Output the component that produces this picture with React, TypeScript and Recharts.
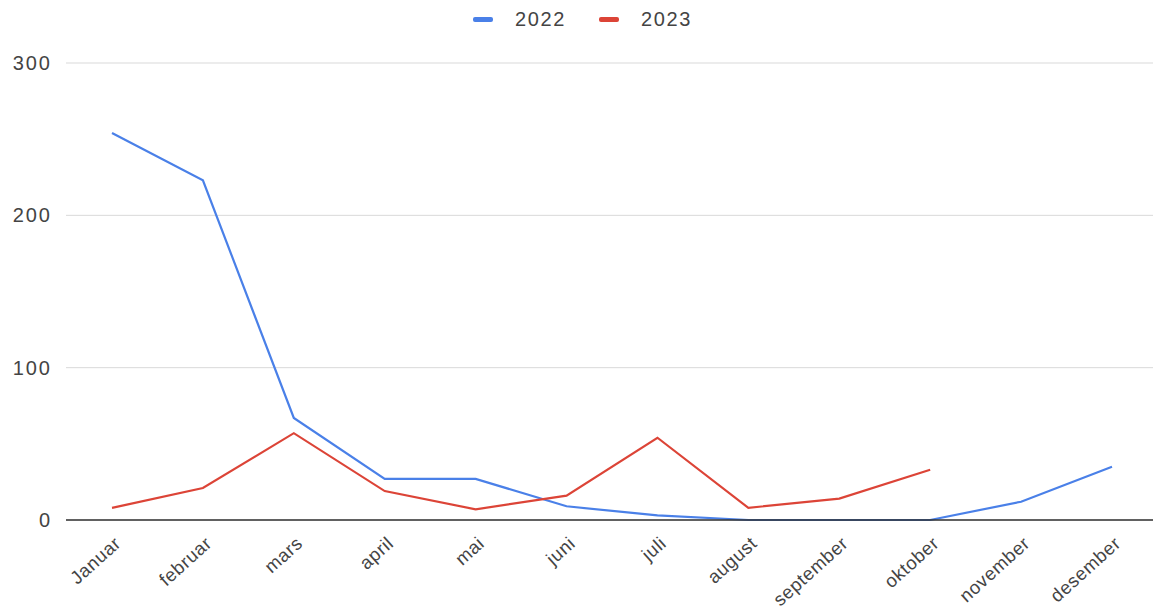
import { LineChart, Line, XAxis, YAxis, CartesianGrid, Legend } from "recharts";

const months = [
  "Januar",
  "februar",
  "mars",
  "april",
  "mai",
  "juni",
  "juli",
  "august",
  "september",
  "oktober",
  "november",
  "desember",
];
const values2022 = [254, 223, 67, 27, 27, 9, 3, 0, 0, 0, 12, 35];
const values2023: Array<number | null> = [8, 21, 57, 19, 7, 16, 54, 8, 14, 33, null, null];
const yTicks = [0, 100, 200, 300];

const data = months.map((m, i) => ({ month: m, y2022: values2022[i], y2023: values2023[i] }));

const FONT = "'Liberation Sans', Arial, sans-serif";

const MonthTick = (props: any) => {
  const { x, y, payload } = props;
  return (
    <g transform={`translate(${x + 10},${y + 17}) rotate(-42)`}>
      <text textAnchor="end" fontSize={18.5} fill="#444" fontFamily={FONT} letterSpacing={0.6}>
        {payload.value}
      </text>
    </g>
  );
};

const legendItems = [
  { label: "2022", color: "#4a80e8" },
  { label: "2023", color: "#dc4437" },
];

const TopLegend = () => (
  <div
    style={{
      display: "flex",
      justifyContent: "center",
      gap: 33,
      fontFamily: FONT,
      fontSize: 20,
      letterSpacing: 1.6,
      color: "#444",
      paddingLeft: 12,
      height: 17,
      alignItems: "center",
    }}
  >
    {legendItems.map((it) => (
      <div key={it.label} style={{ display: "flex", alignItems: "center" }}>
        <span
          style={{
            display: "inline-block",
            width: 20,
            height: 5,
            borderRadius: 2,
            background: it.color,
            marginRight: 22,
          }}
        />
        {it.label}
      </div>
    ))}
  </div>
);

export default function App() {
  return (
    <div style={{ position: "absolute", left: 0, top: 0, background: "#fff" }}>
      <LineChart
        width={1153}
        height={614}
        data={data}
        margin={{ top: 46, right: -6, left: 0, bottom: 0 }}
      >
        <Legend
          verticalAlign="top"
          align="center"
          height={17}
          content={<TopLegend />}
          wrapperStyle={{ top: 11, left: 0, width: 1153 }}
        />
        <CartesianGrid vertical={false} stroke="#d9d9d9" />
        <XAxis
          dataKey="month"
          interval={0}
          tick={<MonthTick />}
          tickLine={false}
          padding={{ left: 46, right: 47 }}
          axisLine={{ stroke: "#333", strokeWidth: 1.5 }}
          height={94}
        />
        <YAxis
          domain={[0, 300]}
          ticks={yTicks}
          axisLine={false}
          tickLine={false}
          tickSize={0}
          tickMargin={14}
          width={66}
          tick={{ fontSize: 20, fill: "#444", fontFamily: FONT, letterSpacing: 2 }}
        />
        <Line
          type="linear"
          dataKey="y2022"
          stroke="#4a80e8"
          strokeWidth={2.2}
          dot={false}
          isAnimationActive={false}
        />
        <Line
          type="linear"
          dataKey="y2023"
          stroke="#dc4437"
          strokeWidth={2.2}
          dot={false}
          isAnimationActive={false}
        />
      </LineChart>
    </div>
  );
}
